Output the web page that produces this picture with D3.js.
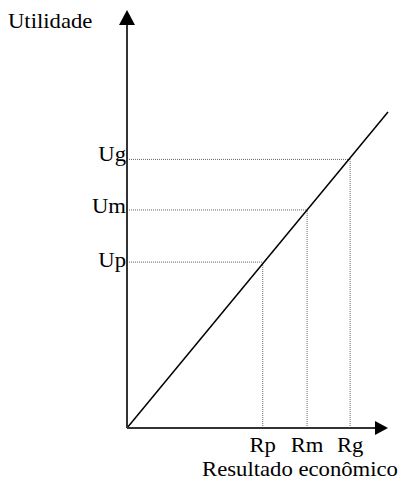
<!DOCTYPE html>
<html><head><meta charset="utf-8">
<script src="https://cdn.jsdelivr.net/npm/d3@7"></script>
<style>body{margin:0;background:#fff}svg{display:block}text{font-family:"Liberation Serif","Times New Roman",serif;fill:#000}</style>
</head><body>
<script>
const resultLabels = ["Rp", "Rm", "Rg"];
const utilLabels = ["Up", "Um", "Ug"];
const resultValues = [5.2, 6.9, 8.55];
const utilValues = [5.25, 6.9, 8.5];
const lineX = [0, 10];
const lineY = [0, 10];
const axisTitleX = "Resultado econômico";
const axisTitleY = "Utilidade";

const W = 411, H = 481;
const svg = d3.select("body").append("svg").attr("width", W).attr("height", H);
const x = d3.scaleLinear().domain([0, 10]).range([127, 388]);
const y = d3.scaleLinear().domain([0, 10]).range([428, 112]);
const ox = x(0), oy = y(0);
const fs = 21, sx = 1.08;

function label(tx, ty, str, anchor) {
  svg.append("text").attr("transform", `translate(${tx},${ty}) scale(${sx},1)`)
    .attr("text-anchor", anchor).attr("font-size", fs).text(str);
}

// dotted guides
const guide = svg.append("g").attr("stroke", "#666").attr("stroke-width", 1).attr("stroke-dasharray", "1,1").attr("fill", "none");
resultValues.forEach((r, i) => {
  guide.append("line").attr("x1", x(r)).attr("x2", x(r)).attr("y1", oy).attr("y2", y(utilValues[i]));
  guide.append("line").attr("x1", ox).attr("x2", x(r)).attr("y1", y(utilValues[i])).attr("y2", y(utilValues[i]));
});

// utility line
svg.append("path").datum(lineX.map((v, i) => [v, lineY[i]]))
  .attr("d", d3.line().x(d => x(d[0])).y(d => y(d[1])))
  .attr("stroke", "#000").attr("stroke-width", 1.5).attr("fill", "none");

// axes
const axisTop = 25, axisRight = 375;
svg.append("line").attr("x1", ox).attr("x2", ox).attr("y1", oy).attr("y2", axisTop).attr("stroke", "#333").attr("stroke-width", 2);
svg.append("line").attr("x1", ox).attr("x2", axisRight).attr("y1", oy).attr("y2", oy).attr("stroke", "#333").attr("stroke-width", 2);
svg.append("path").attr("d", `M${ox - 8},${axisTop} L${ox},${10} L${ox + 8},${axisTop} Z`).attr("fill", "#000");
svg.append("path").attr("d", `M${axisRight},${oy - 7} L${388},${oy} L${axisRight},${oy + 7} Z`).attr("fill", "#000");

// labels
utilLabels.forEach((d, i) => label(ox - 1, y(utilValues[i]) + 2 + (2 - i) * 1.5, d, "end"));
resultLabels.forEach((d, i) => label(x(resultValues[i]), 452, d, "middle"));
label(300, 476, axisTitleX, "middle");
label(8, 28, axisTitleY, "start");
</script>
</body></html>
